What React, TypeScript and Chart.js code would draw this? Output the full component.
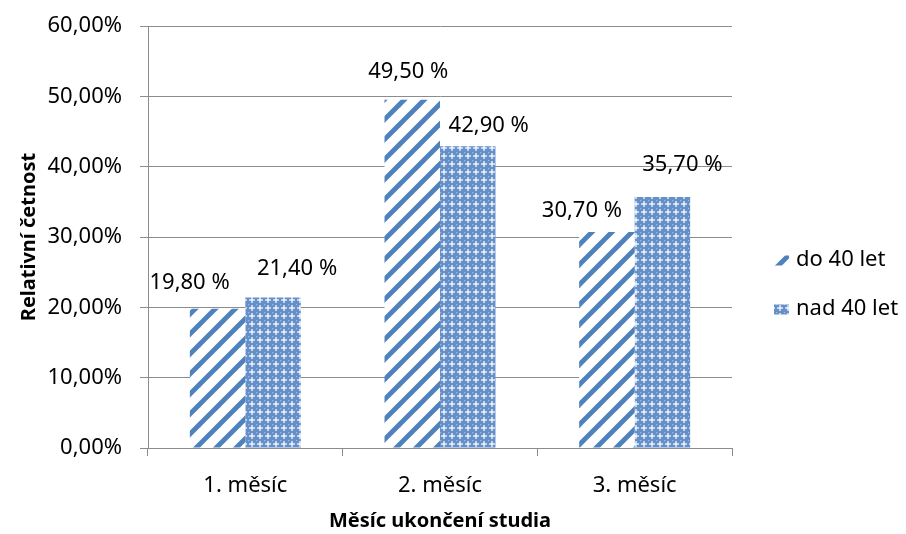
import React, { useEffect, useRef } from "react";
import { Chart, registerables } from "chart.js";

Chart.register(...registerables);

const categories = ["1. měsíc", "2. měsíc", "3. měsíc"];
const seriesNames = ["do 40 let", "nad 40 let"];
const doCtyricetLet = [19.8, 49.5, 30.7];
const nadCtyricetLet = [21.4, 42.9, 35.7];
const yTickValues = [0, 10, 20, 30, 40, 50, 60];
const xTitle = "Měsíc ukončení studia";
const yTitle = "Relativní četnost";

const FONT = "'Noto Sans', 'DejaVu Sans', sans-serif";
const BLUE = "#4f81bd";
const GRID = "#8c8c8c";

// small nudges of the value labels (Excel's collision avoidance)
const labelDx = [
  [-28, -4, -25],
  [24, 21, 20],
];
const labelDy = [
  [26, 28, 21],
  [29, 21, 32],
];

function fmtPct(v: number, space: boolean) {
  return v.toFixed(2).replace(".", ",") + (space ? " %" : "%");
}

function makeStripe(): CanvasPattern | string {
  const T = 20;
  const c = document.createElement("canvas");
  c.width = T;
  c.height = T;
  const g = c.getContext("2d");
  if (!g) return BLUE;
  g.fillStyle = "#ffffff";
  g.fillRect(0, 0, T, T);
  g.strokeStyle = BLUE;
  g.lineWidth = 4.8;
  const w = 8;
  for (const k of [-1, 0, 1, 2]) {
    const cc = k * T + w / 2;
    g.beginPath();
    g.moveTo(-T, cc + T);
    g.lineTo(cc + T, -T);
    g.stroke();
  }
  return g.createPattern(c, "repeat") || BLUE;
}

function makeChecker(): CanvasPattern | string {
  const T = 8;
  const c = document.createElement("canvas");
  c.width = T;
  c.height = T;
  const g = c.getContext("2d");
  if (!g) return BLUE;
  g.fillStyle = "#6690c8";
  g.fillRect(0, 0, T, T);
  g.fillStyle = "#c3d4ec";
  g.fillRect(3, 1, 2, 6);
  g.fillRect(1, 3, 6, 2);
  g.fillStyle = "#a9c1e3";
  g.fillRect(0, 0, 1, 1);
  g.fillStyle = "#eef3fa";
  g.fillRect(3, 3, 2, 2);
  return g.createPattern(c, "repeat") || BLUE;
}

const valueLabels = {
  id: "valueLabels",
  afterDatasetsDraw(chart: any) {
    const ctx = chart.ctx;
    ctx.save();
    ctx.font = `22px ${FONT}`;
    ctx.fillStyle = "#000";
    ctx.textAlign = "center";
    ctx.textBaseline = "middle";
    chart.data.datasets.forEach((ds: any, di: number) => {
      const meta = chart.getDatasetMeta(di);
      meta.data.forEach((bar: any, i: number) => {
        const v = ds.data[i] as number;
        ctx.fillText(fmtPct(v, true), bar.x + labelDx[di][i], bar.y - labelDy[di][i]);
      });
    });
    ctx.restore();
  },
};

const sideLegend = {
  id: "sideLegend",
  afterDraw(chart: any) {
    const ctx = chart.ctx;
    const area = chart.chartArea;
    const x = area.right + 42;
    const midY = (area.top + area.bottom) / 2 + 47;
    const gap = 49;
    const n = chart.data.datasets.length;
    ctx.save();
    ctx.font = `22px ${FONT}`;
    ctx.textAlign = "left";
    ctx.textBaseline = "middle";
    chart.data.datasets.forEach((ds: any, i: number) => {
      const cy = midY + (i - (n - 1) / 2) * gap;
      ctx.fillStyle = ds.backgroundColor;
      ctx.fillRect(x, cy - 4, 15, 10);
      ctx.fillStyle = "#000";
      ctx.fillText(ds.label, x + 22, cy);
    });
    ctx.restore();
  },
};

export default function App() {
  const ref = useRef<HTMLCanvasElement | null>(null);

  useEffect(() => {
    if (!ref.current) return;
    const stripe = makeStripe();
    const checker = makeChecker();
    const chart = new Chart(ref.current, {
      type: "bar",
      data: {
        labels: categories,
        datasets: [
          {
            label: seriesNames[0],
            data: doCtyricetLet,
            backgroundColor: stripe as any,
            borderWidth: 0,
          },
          {
            label: seriesNames[1],
            data: nadCtyricetLet,
            backgroundColor: checker as any,
            borderWidth: 0,
          },
        ],
      },
      options: {
        responsive: false,
        animation: false,
        devicePixelRatio: 1,
        layout: { padding: { top: 26, right: 174, bottom: 1, left: 13 } },
        datasets: {
          bar: { categoryPercentage: 0.57, barPercentage: 1 },
        },
        plugins: {
          legend: { display: false },
          tooltip: { enabled: false },
          title: { display: false },
        },
        scales: {
          x: {
            afterFit: (scale: any) => {
              scale.height = 85;
              scale.paddingLeft = 0;
              scale.paddingRight = 0;
            },
            grid: {
              display: true,
              drawOnChartArea: false,
              drawTicks: true,
              tickLength: 8,
              offset: true,
              color: GRID,
            },
            border: { display: true, color: GRID, width: 1 },
            ticks: {
              font: { family: FONT, size: 22 },
              color: "#000",
              padding: 17,
            },
            title: {
              display: true,
              text: xTitle,
              font: { family: FONT, size: 20, weight: "bold" },
              color: "#000",
              padding: { top: 4, bottom: 0 },
            },
          },
          y: {
            min: 0,
            max: 60,
            afterFit: (scale: any) => {
              scale.width = 135;
              scale.paddingTop = 0;
              scale.paddingBottom = 0;
            },
            afterBuildTicks: (scale: any) => {
              scale.ticks = yTickValues.map((v) => ({ value: v }));
            },
            grid: {
              color: GRID,
              drawTicks: true,
              tickLength: 8,
            },
            border: { display: true, color: GRID, width: 1 },
            ticks: {
              font: { family: FONT, size: 22 },
              color: "#000",
              padding: 18,
              callback: (v: any) => fmtPct(Number(v), false),
            },
            title: {
              display: true,
              text: yTitle,
              font: { family: FONT, size: 20, weight: "bold" },
              color: "#000",
              padding: { top: 4, bottom: 4 },
            },
          },
        },
      },
      plugins: [valueLabels, sideLegend],
    });
    return () => chart.destroy();
  }, []);

  return (
    <div style={{ position: "fixed", left: 0, top: 0, width: 906, height: 534, background: "#fff" }}>
      <canvas ref={ref} width={906} height={534} style={{ display: "block" }} />
    </div>
  );
}
